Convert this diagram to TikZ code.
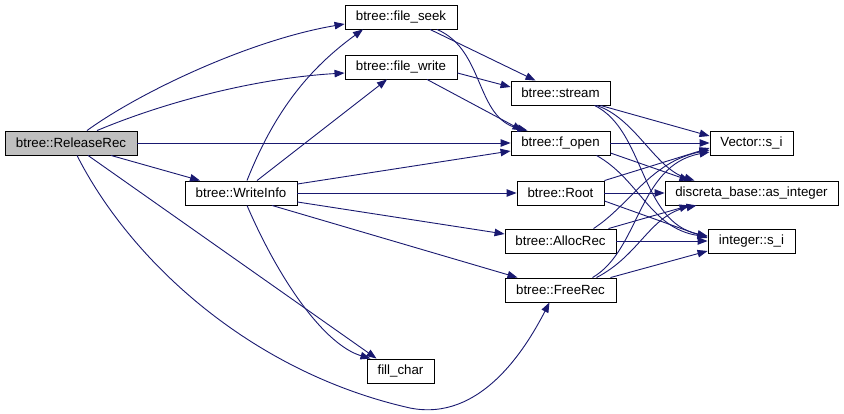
\documentclass[tikz,border=0pt]{standalone}
\usepackage{fontspec}
\setmainfont{Liberation Sans}
\usetikzlibrary{arrows.meta}
\definecolor{edgeblue}{HTML}{191970}
\begin{document}
\begin{tikzpicture}[x=1pt,y=-1pt,
  box/.style={draw=black,line width=0.9pt,fill=white,minimum height=24pt,inner sep=0pt,
    font=\fontsize{13.3}{16}\selectfont},
  edge/.style={draw=edgeblue,line width=0.9pt,-{Triangle[length=10pt,width=7.5pt]}}]
\useasboundingbox (0,0) rectangle (844,414);
\node[box,fill=black!25,minimum width=132pt] (rr) at (71,143) {btree::ReleaseRec};
\node[box,minimum width=112pt] (wi) at (241,193) {btree::WriteInfo};
\node[box,minimum width=112pt] (fs) at (401,17) {btree::file\_seek};
\node[box,minimum width=112pt] (fw) at (401,67) {btree::file\_write};
\node[box,minimum width=99pt] (st) at (560.5,93) {btree::stream};
\node[box,minimum width=99pt] (fo) at (560.5,143) {btree::f\_open};
\node[box,minimum width=87pt] (root) at (560.5,193) {btree::Root};
\node[box,minimum width=111pt] (ar) at (560.5,241) {btree::AllocRec};
\node[box,minimum width=111pt] (fr) at (560.5,290) {btree::FreeRec};
\node[box,minimum width=67pt] (fc) at (400.5,371) {fill\_char};
\node[box,minimum width=83pt] (vs) at (751.5,143) {Vector::s\_i};
\node[box,minimum width=173pt] (ai) at (751.5,193) {discreta\_base::as\_integer};
\node[box,minimum width=87pt] (is) at (751.5,241) {integer::s\_i};
% ReleaseRec
\draw[edge] ([xshift=16pt]rr.north) .. controls (140,92) and (250,40) .. ([yshift=-7pt]fs.west);
\draw[edge] ([xshift=26pt]rr.north) .. controls (170,100) and (260,78) .. ([yshift=-6pt]fw.west);
\draw[edge] (rr.east) -- (fo.west);
\draw[edge] ([xshift=40pt]rr.south) -- ([xshift=-41pt]wi.north);
\draw[edge] ([xshift=17pt]rr.south) -- ([xshift=-24pt]fc.north);
\draw[edge] ([xshift=6pt]rr.south) .. controls (130,260) and (250,372) .. (410,408)
  .. controls (480,422) and (525,350) .. ([xshift=-11pt]fr.south);
% WriteInfo
\draw[edge] ([xshift=6pt]wi.north) .. controls (275,110) and (310,68) .. ([xshift=-38pt]fs.south);
\draw[edge] ([xshift=16pt]wi.north) -- ([xshift=-14pt]fw.south);
\draw[edge] ([yshift=9pt]wi.east) -- ([yshift=-8pt]fo.west);
\draw[edge] (wi.east) -- (root.west);
\draw[edge] ([yshift=-9pt]wi.east) -- ([yshift=7pt]ar.west);
\draw[edge] ([xshift=31pt]wi.south) -- ([xshift=-43pt]fr.north);
\draw[edge] ([xshift=6pt]wi.south) .. controls (280,282) and (325,345) .. ([xshift=-30pt]fc.north);
% file_seek / file_write
\draw[edge] ([xshift=29pt]fs.south) -- ([xshift=-25pt]st.north);
\draw[edge] ([xshift=36pt]fs.south) .. controls (485,50) and (475,118) .. ([xshift=-33pt]fo.north);
\draw[edge] ([yshift=-6pt]fw.east) -- ([yshift=6pt]st.west);
\draw[edge] ([xshift=26pt]fw.south) -- ([xshift=-38pt]fo.north);
% stream
\draw[edge] ([xshift=40pt]st.south) -- ([yshift=7pt]vs.west);
\draw[edge] ([xshift=36pt]st.south) .. controls (635,118) and (655,168) .. ([xshift=-57pt]ai.north);
\draw[edge] ([xshift=34pt]st.south) .. controls (645,130) and (640,222) .. ([yshift=5pt]is.west);
% f_open
\draw[edge] (fo.east) -- (vs.west);
\draw[edge] ([yshift=-10pt]fo.east) -- ([xshift=-62pt]ai.north);
\draw[edge] ([xshift=36pt]fo.south) .. controls (640,180) and (650,228) .. ([yshift=4pt]is.west);
% Root
\draw[edge] (root.north east) -- ([yshift=-5pt]vs.west);
\draw[edge] (root.east) -- (ai.west);
\draw[edge] ([yshift=-8pt]root.east) -- ([yshift=3pt]is.west);
% AllocRec
\draw[edge] ([xshift=33pt]ar.north) .. controls (630,205) and (650,162) .. ([yshift=-7pt]vs.west);
\draw[edge] ([xshift=48pt]ar.north) -- ([xshift=-62pt]ai.south);
\draw[edge] (ar.east) -- (is.west);
% FreeRec
\draw[edge] ([xshift=32pt]fr.north) .. controls (640,250) and (638,165) .. ([yshift=-9pt]vs.west);
\draw[edge] ([xshift=36pt]fr.north) .. controls (640,255) and (650,215) .. ([xshift=-55pt]ai.south);
\draw[edge] ([xshift=50pt]fr.north) -- ([yshift=-10pt]is.west);
\end{tikzpicture}
\end{document}
